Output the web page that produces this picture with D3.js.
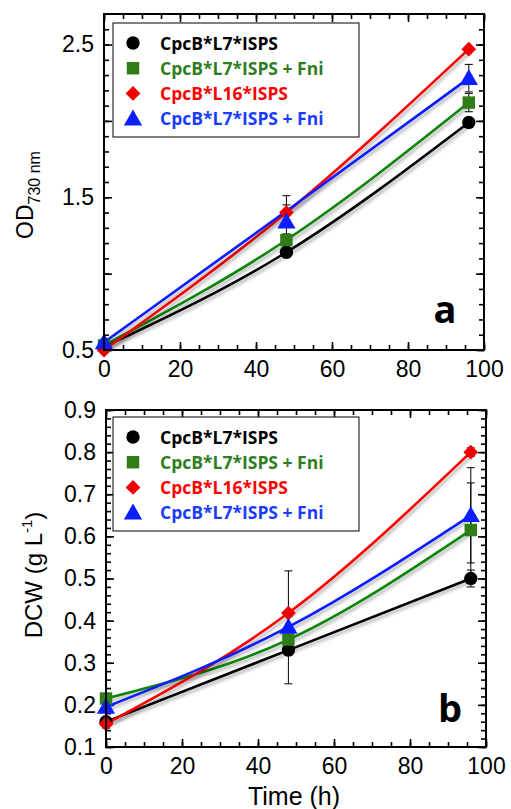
<!DOCTYPE html>
<html>
<head>
<meta charset="utf-8">
<script src="https://cdn.jsdelivr.net/npm/d3@7"></script>
<style>
  body { margin: 0; background: #fff; }
  svg { display: block; }
</style>
</head>
<body>
<div id="chart"></div>
<script>
/* globals d3 */

let time = [0, 48, 96]
let seriesNames = ['CpcB*L7*ISPS', 'CpcB*L7*ISPS + Fni', 'CpcB*L16*ISPS', 'CpcB*L7*ISPS + Fni']
let lineColors = ['#000000', '#0a850a', '#ff0000', '#0a1eff']
let markColors = ['#000000', '#2e7d17', '#ee0000', '#0a1eff']
let textColors = ['#000000', '#2e7d1e', '#ff0000', '#1a3cff']

// OD 730 nm
let odBlack = [0.52, 1.14, 1.99]
let odGreen = [0.53, 1.22, 2.12]
let odRed = [0.50, 1.40, 2.47]
let odBlue = [0.55, 1.34, 2.28]
let odErrBlack = [0.02, 0.03, 0.03]
let odErrGreen = [0.02, 0.04, 0.06]
let odErrRed = [0.02, 0.05, 0.01]
let odErrBlue = [0.02, 0.17, 0.09]

// DCW g/L
let dcwBlack = [0.16, 0.33, 0.50]
let dcwGreen = [0.215, 0.355, 0.615]
let dcwRed = [0.155, 0.418, 0.80]
let dcwBlue = [0.195, 0.385, 0.65]
let dcwErrBlack = [0.01, 0.08, 0.02]
let dcwErrGreen = [0.01, 0.02, 0.112]
let dcwErrRed = [0.01, 0.10, 0.01]
let dcwErrBlue = [0.01, 0.03, 0.113]

let xTicks = [0, 20, 40, 60, 80, 100]
let odTicks = [0.5, 1.5, 2.5]
let dcwTicks = [0.1, 0.2, 0.3, 0.4, 0.5, 0.6, 0.7, 0.8, 0.9]

// marker shapes: circle, square, diamond (rotated square), triangle
let marker = [
  { type: d3.symbolCircle, size: 140, rot: 0, dy: 0 },
  { type: d3.symbolSquare, size: 155, rot: 0, dy: 0 },
  { type: d3.symbolSquare, size: 110, rot: 45, dy: 0 },
  { type: d3.symbolTriangle, size: 145, rot: 0, dy: 1.5 }
]

let svg = d3.select('#chart').append('svg').attr('width', 511).attr('height', 809)

svg.append('defs').append('filter').attr('id', 'shadow')
    .attr('x', '-10%').attr('y', '-10%').attr('width', '130%').attr('height', '130%')
  .append('feDropShadow')
    .attr('dx', 2).attr('dy', 2.5).attr('stdDeviation', 1.6)
    .attr('flood-color', '#000').attr('flood-opacity', 0.3)

function drawMarker (sel, k, cx, cy) {
  let m = marker[k]
  sel.append('path')
    .attr('d', d3.symbol().type(m.type).size(m.size))
    .attr('transform', `translate(${cx},${cy + m.dy}) rotate(${m.rot})`)
    .attr('fill', markColors[k])
}

function panel (opt) {
  let x = d3.scaleLinear().domain([0, 100]).range([opt.left, opt.right])
  let y = d3.scaleLinear().domain(opt.yDomain).range([opt.bottom, opt.top])
  let g = svg.append('g')

  // inward ticks on all four sides
  let xMinor = d3.range(0, 101, 5)
  let xMajor = d3.range(0, 101, 20)
  let side = (axis, tx, ty, values, size) => {
    g.append('g').attr('transform', `translate(${tx},${ty})`)
      .call(axis.tickValues(values).tickSize(size).tickFormat(''))
      .call((s) => s.select('.domain').remove())
      .selectAll('line').attr('stroke', '#000').attr('stroke-width', 1.6)
  }
  side(d3.axisTop(x), 0, opt.bottom, xMinor, 5)
  side(d3.axisTop(x), 0, opt.bottom, xMajor, 8)
  side(d3.axisBottom(x), 0, opt.top, xMinor, 5)
  side(d3.axisBottom(x), 0, opt.top, xMajor, 8)
  side(d3.axisRight(y), opt.left, 0, opt.yMinor, 5)
  side(d3.axisRight(y), opt.left, 0, opt.yMajor, 8)
  side(d3.axisLeft(y), opt.right, 0, opt.yMinor, 5)
  side(d3.axisLeft(y), opt.right, 0, opt.yMajor, 8)

  // labels
  g.append('g').attr('transform', `translate(0,${opt.bottom})`)
    .call(d3.axisBottom(x).tickValues(xTicks).tickSize(0).tickPadding(11).tickFormat(d3.format('d')))
    .call((s) => s.select('.domain').remove())
    .selectAll('text').attr('font-family', 'Liberation Sans, Arial, sans-serif').attr('font-size', 23).attr('fill', '#000')
  g.append('g').attr('transform', `translate(${opt.left},0)`)
    .call(d3.axisLeft(y).tickValues(opt.yLabels).tickSize(0).tickPadding(10).tickFormat(d3.format('.1f')))
    .call((s) => s.select('.domain').remove())
    .selectAll('text').attr('font-family', 'Liberation Sans, Arial, sans-serif').attr('font-size', 23).attr('fill', '#000')

  // smoothed lines
  opt.series.forEach((s, k) => {
    let line = d3.line().x((d, i) => x(time[i])).y((d) => y(d)).curve(opt.curves[k])
    g.append('path').attr('d', line(s)).attr('fill', 'none')
      .attr('stroke', lineColors[k]).attr('stroke-width', 2.6)
      .attr('filter', 'url(#shadow)')
  })

  // error bars
  opt.series.forEach((s, k) => {
    s.forEach((v, i) => {
      let e = opt.errors[k][i]
      let cx = x(time[i])
      let eb = g.append('g').attr('stroke', '#000').attr('stroke-width', 1)
      eb.append('line').attr('x1', cx).attr('x2', cx).attr('y1', y(v - e)).attr('y2', y(v + e))
      eb.append('line').attr('x1', cx - 4).attr('x2', cx + 4).attr('y1', y(v - e)).attr('y2', y(v - e))
      eb.append('line').attr('x1', cx - 4).attr('x2', cx + 4).attr('y1', y(v + e)).attr('y2', y(v + e))
    })
  })

  // markers
  opt.series.forEach((s, k) => {
    s.forEach((v, i) => drawMarker(g, k, x(time[i]), y(v)))
  })

  // frame
  g.append('rect').attr('x', opt.left).attr('y', opt.top)
    .attr('width', opt.right - opt.left).attr('height', opt.bottom - opt.top)
    .attr('fill', 'none').attr('stroke', '#000').attr('stroke-width', 2)

  // legend
  let lg = g.append('g')
  lg.append('rect').attr('x', 113).attr('y', opt.legendTop).attr('width', 246).attr('height', 114)
    .attr('fill', '#fff').attr('stroke', '#000').attr('stroke-width', 1)
  seriesNames.forEach((name, k) => {
    let ry = opt.legendTop + 20 + k * 25.2
    drawMarker(lg, k, 133, ry)
    lg.append('text').attr('x', 160).attr('y', ry + 6.5).text(name)
      .attr('font-family', 'Open Sans, sans-serif').attr('font-weight', 700)
      .attr('font-size', 17.5).attr('fill', textColors[k])
  })

  // panel letter
  g.append('text').attr('x', opt.letterX).attr('y', opt.letterY).text(opt.letter)
    .attr('text-anchor', 'middle').attr('font-family', 'Open Sans, sans-serif')
    .attr('font-weight', 700).attr('font-size', 38).attr('fill', '#000')
}

let smooth = d3.curveMonotoneX

panel({
  left: 104, right: 484, top: 14, bottom: 350,
  yDomain: [0.5, 2.7],
  yMinor: d3.range(5, 27).map((d) => d / 10),
  yMajor: [0.5, 1.0, 1.5, 2.0, 2.5],
  yLabels: odTicks,
  series: [odBlack, odGreen, odRed, odBlue],
  errors: [odErrBlack, odErrGreen, odErrRed, odErrBlue],
  curves: [smooth, smooth, smooth, d3.curveBundle.beta(0.1)],
  legendTop: 23,
  letter: 'a', letterX: 445, letterY: 323
})

panel({
  left: 106, right: 486, top: 410, bottom: 747,
  yDomain: [0.1, 0.9],
  yMinor: d3.range(5, 46).map((d) => d / 50),
  yMajor: dcwTicks,
  yLabels: dcwTicks,
  series: [dcwBlack, dcwGreen, dcwRed, dcwBlue],
  errors: [dcwErrBlack, dcwErrGreen, dcwErrRed, dcwErrBlue],
  curves: [smooth, smooth, smooth, smooth],
  legendTop: 417,
  letter: 'b', letterX: 450, letterY: 722
})

// axis titles
let od = svg.append('text').attr('transform', 'translate(33,195) rotate(-90)')
  .attr('text-anchor', 'middle').attr('font-family', 'Liberation Sans, Arial, sans-serif')
  .attr('font-size', 23).attr('fill', '#000')
od.append('tspan').text('OD')
od.append('tspan').attr('font-size', 16).attr('dy', 7).text('730 nm')

let dcw = svg.append('text').attr('transform', 'translate(42,575) rotate(-90)')
  .attr('text-anchor', 'middle').attr('font-family', 'Liberation Sans, Arial, sans-serif')
  .attr('font-size', 24).attr('fill', '#000')
dcw.append('tspan').text('DCW (g L')
dcw.append('tspan').attr('font-size', 15).attr('dy', -10).text('-1')
dcw.append('tspan').attr('dy', 10).text(')')

svg.append('text').attr('x', 294).attr('y', 805).attr('text-anchor', 'middle')
  .attr('font-family', 'Liberation Sans, Arial, sans-serif').attr('font-size', 25).attr('fill', '#000')
  .text('Time (h)')
</script>
</body>
</html>
